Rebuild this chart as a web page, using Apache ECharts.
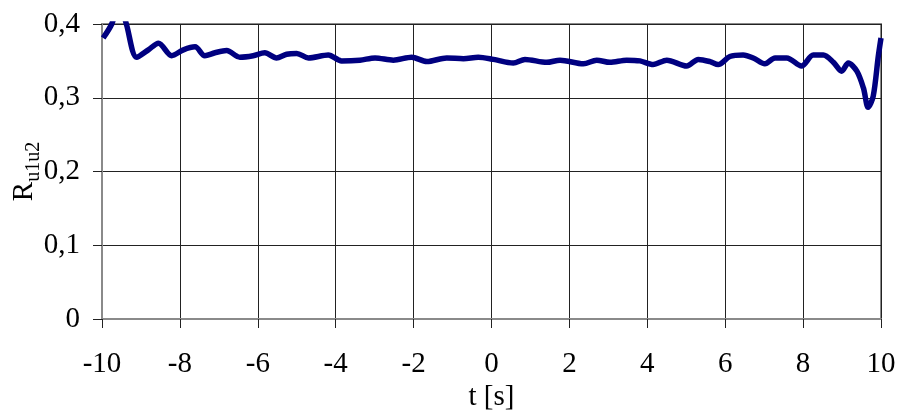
<!DOCTYPE html>
<html>
<head>
<meta charset="utf-8">
<script src="https://cdn.jsdelivr.net/npm/echarts@6/dist/echarts.min.js"></script>
<style>
  html, body { margin: 0; padding: 0; background: #fff; }
  #main { width: 900px; height: 410px; }
</style>
</head>
<body>
<div id="main"></div>
<script>
// czas t [s]
var tVals = [-9.97, -9.75, -9.55, -9.37, -9.11, -8.81, -8.55, -8.21, -7.91, -7.61, -7.36, -7.10, -6.80,
  -6.46, -6.12, -5.82, -5.52, -5.26, -5.00, -4.70, -4.19, -3.85, -3.38, -2.99, -2.52, -2.05, -1.66,
  -1.15, -0.72, -0.34, 0.05, 0.56, 0.86, 1.42, 1.76, 2.36, 2.70, 3.04, 3.47, 3.81, 4.15, 4.50, 5.01,
  5.31, 5.61, 5.82, 6.12, 6.46, 6.72, 7.02, 7.28, 7.58, 7.96, 8.26, 8.52, 8.78, 8.99, 9.16, 9.38,
  9.55, 9.67, 9.80, 9.93, 10.0];
// wspolczynnik R_u1u2
var rVals = [0.381, 0.400, 0.430, 0.399, 0.355, 0.365, 0.374, 0.357, 0.365, 0.369, 0.357, 0.361, 0.364,
  0.355, 0.357, 0.361, 0.354, 0.359, 0.360, 0.354, 0.358, 0.350, 0.351, 0.354, 0.351, 0.355, 0.349,
  0.354, 0.353, 0.355, 0.352, 0.347, 0.352, 0.348, 0.351, 0.346, 0.351, 0.348, 0.351, 0.350, 0.345,
  0.351, 0.343, 0.352, 0.349, 0.345, 0.356, 0.358, 0.354, 0.346, 0.354, 0.354, 0.343, 0.358, 0.358,
  0.348, 0.336, 0.347, 0.336, 0.313, 0.287, 0.302, 0.356, 0.381];
var xTicks = { min: -10, max: 10, step: 2 };
var yTicks = { min: 0, max: 0.4, step: 0.1 };

var points = tVals.map(function (t, i) { return [t, rVals[i]]; });

var chart = echarts.init(document.getElementById('main'));
var font = '"Liberation Serif", "Times New Roman", serif';

var option = {
  backgroundColor: '#fff',
  animation: false,
  grid: {
    left: 102, right: 19, top: 24, bottom: 91,
    outerBoundsMode: 'none',
    containLabel: false,
    show: true, borderColor: '#8a8a8a', borderWidth: 2
  },
  xAxis: {
    type: 'value',
    min: xTicks.min, max: xTicks.max, interval: xTicks.step,
    name: 't [s]',
    nameLocation: 'middle',
    nameGap: 64,
    nameMoveOverlap: false,
    nameTextStyle: { fontFamily: font, fontSize: 29, color: '#000' },
    axisLine: { onZero: false, lineStyle: { color: '#8a8a8a', width: 2 } },
    axisTick: { length: 9, lineStyle: { color: '#222', width: 1 } },
    axisLabel: { fontFamily: font, fontSize: 29, color: '#000', margin: 31 },
    splitLine: { show: true, lineStyle: { color: '#222', width: 1 } }
  },
  yAxis: {
    type: 'value',
    min: yTicks.min, max: yTicks.max, interval: yTicks.step,
    name: '{r|R}{s|u1u2}',
    nameLocation: 'middle',
    nameRotate: 90,
    nameGap: 58,
    nameMoveOverlap: false,
    nameTextStyle: {
      rich: {
        r: { fontFamily: font, fontSize: 29, color: '#000', verticalAlign: 'top' },
        s: { fontFamily: font, fontSize: 20, color: '#000', verticalAlign: 'bottom', padding: [14, 0, 0, 0] }
      }
    },
    axisLine: { onZero: false, lineStyle: { color: '#8a8a8a', width: 2 } },
    axisTick: { length: 9, lineStyle: { color: '#222', width: 1 } },
    axisLabel: {
      fontFamily: font, fontSize: 29, color: '#000', margin: 22,
      formatter: function (v) { return v === 0 ? '0' : v.toFixed(1).replace('.', ','); }
    },
    splitLine: { show: true, lineStyle: { color: '#222', width: 1 } }
  },
  series: [{
    type: 'line',
    data: points,
    smooth: 0.3,
    clip: true,
    showSymbol: false,
    lineStyle: { color: '#000080', width: 5.5 }
  }]
};
chart.setOption(option);
</script>
</body>
</html>
